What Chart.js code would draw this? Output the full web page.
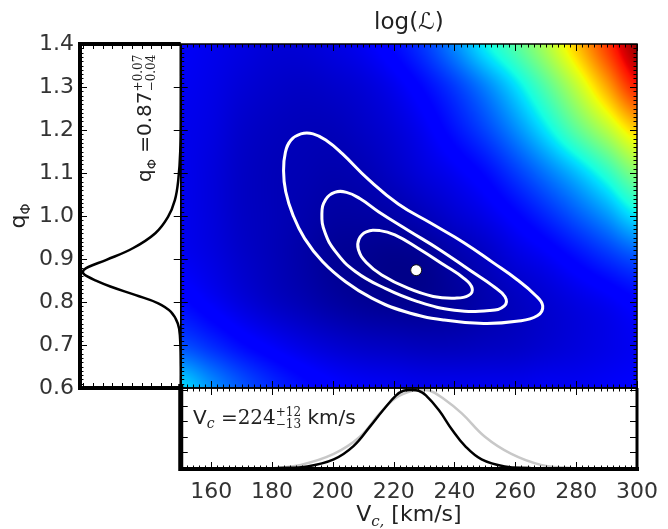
<!DOCTYPE html>
<html><head><meta charset="utf-8">
<script src="https://cdn.jsdelivr.net/npm/chart.js@4.4.1/dist/chart.umd.min.js"></script>
<style>html,body{margin:0;padding:0;background:#fff;}#wrap{position:relative;width:668px;height:529px;}</style>
</head><body><div id="wrap"><canvas id="c" width="668" height="529"></canvas></div>
<script>
// ---------- data ----------
const vcGrid = [150,160,170,180,190,200,210,220,230,240,250,260,270,280,290,300];
const qGrid  = [1.4,1.3,1.2,1.1,1.0,0.9,0.8,0.7,0.6];
// log-likelihood (normalised colour value) per q row, along vcGrid
const logL_q140 = [0.105,0.095,0.085,0.075,0.075,0.085,0.10,0.13,0.18,0.26,0.36,0.45,0.56,0.70,0.85,0.98];
const logL_q130 = [0.10,0.09,0.075,0.065,0.06,0.065,0.075,0.095,0.13,0.18,0.25,0.34,0.45,0.58,0.73,0.88];
const logL_q120 = [0.095,0.085,0.065,0.055,0.05,0.05,0.06,0.075,0.10,0.14,0.19,0.26,0.35,0.46,0.57,0.69];
const logL_q110 = [0.095,0.08,0.06,0.05,0.045,0.04,0.045,0.06,0.08,0.10,0.13,0.18,0.24,0.31,0.40,0.51];
const logL_q100 = [0.095,0.08,0.06,0.05,0.04,0.03,0.03,0.035,0.05,0.07,0.09,0.12,0.16,0.21,0.27,0.35];
const logL_q090 = [0.10,0.085,0.065,0.05,0.035,0.02,0.015,0.01,0.015,0.035,0.055,0.08,0.10,0.13,0.165,0.20];
const logL_q080 = [0.13,0.105,0.08,0.06,0.045,0.03,0.02,0.015,0.015,0.025,0.04,0.055,0.07,0.085,0.10,0.12];
const logL_q070 = [0.20,0.165,0.13,0.105,0.085,0.07,0.06,0.055,0.05,0.05,0.055,0.06,0.07,0.08,0.09,0.10];
const logL_q060 = [0.34,0.27,0.21,0.165,0.135,0.115,0.105,0.10,0.095,0.095,0.095,0.095,0.10,0.10,0.105,0.11];
const logLRows = [logL_q140,logL_q130,logL_q120,logL_q110,logL_q100,logL_q090,logL_q080,logL_q070,logL_q060];

// confidence contours [Vc, q]
const contourInner = [[224.7,0.832],[216.1,0.863],[211.0,0.892],[208.4,0.922],[208.6,0.946],[211.0,0.963],[215.5,0.966],[220.4,0.956],[228.0,0.925],[236.6,0.886],[243.1,0.855],[245.8,0.832],[244.6,0.815],[240.0,0.809],[233.0,0.813]];
const contourMid = [[227.9,0.801],[217.1,0.832],[207.4,0.871],[200.9,0.917],[197.4,0.962],[196.4,1.005],[197.6,1.038],[200.6,1.055],[204.5,1.055],[209.0,1.040],[215.0,1.010],[224.7,0.967],[235.5,0.920],[245.2,0.873],[252.5,0.838],[256.6,0.812],[256.4,0.791],[251.5,0.780],[240.0,0.781]];
const contourOuter = [[223.6,0.778],[212.8,0.809],[204.2,0.847],[196.6,0.894],[190.7,0.948],[186.9,1.002],[184.5,1.057],[183.8,1.105],[184.4,1.148],[186.2,1.176],[189.5,1.191],[193.5,1.191],[198.0,1.175],[203.1,1.145],[211.7,1.085],[221.5,1.028],[232.3,0.983],[243.1,0.938],[252.8,0.891],[260.4,0.853],[266.4,0.817],[269.0,0.791],[267.2,0.768],[260.4,0.755],[249.6,0.750],[236.6,0.758]];
const bestFit = [[227.4,0.874]];

// marginal of q (left panel)
const qMargQ = [0.60,0.65,0.72,0.75,0.777,0.797,0.816,0.836,0.851,0.860,0.866,0.870,0.875,0.882,0.898,0.925,0.960,0.998,1.037,1.084,1.15,1.25,1.40];
const qMargP = [0,0,0.008,0.03,0.10,0.23,0.46,0.72,0.88,0.96,0.995,1.0,0.99,0.94,0.76,0.49,0.26,0.13,0.06,0.025,0.005,0,0];

// marginal of Vc (bottom panel)
const vcMargV = [181.9,191.6,200.3,206.8,212.2,216.5,220.8,223.2,225.7,228.2,230.6,234.9,239.2,243.5,248.9,256.5,265.0];
const vcMargP = [0,0.02,0.11,0.28,0.53,0.74,0.93,0.99,1.0,0.99,0.93,0.74,0.49,0.28,0.11,0.02,0];
const vcPriorV = [180.9,189.5,200.3,208.9,215.4,220.8,226.0,228.7,232.0,236.0,242.4,250.0,258.7,268.4,278.1];
const vcPriorP = [0,0.04,0.18,0.40,0.70,0.90,0.99,1.0,0.99,0.90,0.70,0.40,0.18,0.04,0];

const vcTicks = [160,180,200,220,240,260,280,300];
const qTicks  = [0.6,0.7,0.8,0.9,1.0,1.1,1.2,1.3,1.4];

// ---------- helpers ----------
function jet(v){
  v = Math.max(0, Math.min(1, v));
  const interp = (pts) => { for (let i=1;i<pts.length;i++){ if (v<=pts[i][0]){ const a=pts[i-1],b=pts[i]; return a[1]+(b[1]-a[1])*(v-a[0])/(b[0]-a[0]); } } return pts[pts.length-1][1]; };
  const r = interp([[0,0],[0.35,0],[0.66,1],[0.89,1],[1,0.5]]);
  const g = interp([[0,0],[0.125,0],[0.375,1],[0.64,1],[0.91,0],[1,0]]);
  const b = interp([[0,0.5],[0.11,1],[0.34,1],[0.65,0],[1,0]]);
  return [r*255,g*255,b*255];
}
function cr(p0,p1,p2,p3,t){ return p1 + 0.5*t*(p2-p0 + t*(2*p0-5*p1+4*p2-p3 + t*(3*(p1-p2)+p3-p0))); }
function sampleGrid(fx, fy){
  const nx = vcGrid.length, ny = qGrid.length;
  const cl = (i,n)=>Math.max(0,Math.min(n-1,i));
  let ix = Math.floor(fx), iy = Math.floor(fy);
  ix = Math.max(0, Math.min(nx-2, ix)); iy = Math.max(0, Math.min(ny-2, iy));
  const tx = fx-ix, ty = fy-iy;
  const col = [];
  for (let k=-1;k<=2;k++){
    const row = logLRows[cl(iy+k,ny)];
    col.push(cr(row[cl(ix-1,nx)],row[ix],row[cl(ix+1,nx)],row[cl(ix+2,nx)],tx));
  }
  return cr(col[0],col[1],col[2],col[3],ty);
}
const toXY = arr => arr.map(([x,y])=>({x,y}));
// closed loop: one extra point on each side so every drawn joint is smooth; the two helper segments are hidden
const closeLoop = arr => { const p = toXY(arr); return [p[p.length-1]].concat(p, [p[0], p[1]]); };
const pairs = (xs, ys) => xs.map((x,i)=>({x, y: ys[i]}));

// ---------- plugins ----------
const heatmapPlugin = {
  id:'heatmap',
  beforeDatasetsDraw(chart){
    const xs = chart.scales.x, ys = chart.scales.y, ctx = chart.ctx;
    const x0 = Math.round(xs.getPixelForValue(vcGrid[0])), x1 = Math.round(xs.getPixelForValue(vcGrid[vcGrid.length-1]));
    const y0 = Math.round(ys.getPixelForValue(qGrid[0])), y1 = Math.round(ys.getPixelForValue(qGrid[qGrid.length-1]));
    const w = x1-x0, h = y1-y0;
    const off = document.createElement('canvas'); off.width = w; off.height = h;
    const octx = off.getContext('2d'); const img = octx.createImageData(w,h);
    const dv = vcGrid[1]-vcGrid[0], dq = qGrid[0]-qGrid[1];
    for (let j=0;j<h;j++){
      const q = ys.getValueForPixel(y0+j+0.5); const fy = (qGrid[0]-q)/dq;
      for (let i=0;i<w;i++){
        const v = xs.getValueForPixel(x0+i+0.5); const fx = (v-vcGrid[0])/dv;
        const c = jet(sampleGrid(fx,fy)); const k = (j*w+i)*4;
        img.data[k]=c[0]; img.data[k+1]=c[1]; img.data[k+2]=c[2]; img.data[k+3]=255;
      }
    }
    octx.putImageData(img,0,0);
    ctx.drawImage(off, x0, y0);
  }
};

function seg(ctx,x1,y1,x2,y2){ ctx.beginPath(); ctx.moveTo(x1,y1); ctx.lineTo(x2,y2); ctx.stroke(); }

const framePlugin = {
  id:'frame',
  afterDatasetsDraw(chart){
    const ctx = chart.ctx, xs = chart.scales.x, ys = chart.scales.y, x2 = chart.scales.x2, y2 = chart.scales.y2;
    const L = chart.chartArea.left, R = xs.getPixelForValue(300), X0 = xs.getPixelForValue(150);
    const T = ys.getPixelForValue(1.4), B = ys.getPixelForValue(0.6), BB = chart.chartArea.bottom;
    ctx.save(); ctx.strokeStyle = '#000'; ctx.lineCap = 'butt';
    for (let v=150; v<=300.001; v+=2){
      const major = Math.abs((v-160)%20) < 1e-6; const len = major ? 7 : 3.5; const px = Math.round(xs.getPixelForValue(v))+0.5;
      ctx.lineWidth = 1;
      seg(ctx,px,T,px,T+len); seg(ctx,px,B,px,B-len); seg(ctx,px,B,px,B+len); seg(ctx,px,BB,px,BB-len);
    }
    for (let i=0;i<=80;i++){
      const q = 0.6 + i*0.01; const major = i%10===0; const len = major ? 7 : 3.5; const py = Math.round(ys.getPixelForValue(q))+0.5;
      ctx.lineWidth = 1;
      seg(ctx,L,py,L+len,py); seg(ctx,X0,py,X0+len,py); seg(ctx,R,py,R-len,py);
      if (major) seg(ctx,X0,py,X0-len,py);
    }
    for (let d=0; d<=1.0001; d+=0.1){
      const px = Math.round(x2.getPixelForValue(d))+0.5; ctx.lineWidth = 1;
      seg(ctx,px,T,px,T+5); seg(ctx,px,B,px,B-5);
    }
    for (let d=0.2; d<=1.0001; d+=0.2){
      const py = Math.round(y2.getPixelForValue(d))+0.5; ctx.lineWidth = 1;
      seg(ctx,X0,py,X0+7,py); seg(ctx,R,py,R-7,py);
    }
    ctx.lineWidth = 1.5; ctx.strokeRect(X0, T, R-X0, B-T);
    ctx.lineWidth = 4;
    seg(ctx,L-2,T,X0,T); seg(ctx,L,T,L,B); seg(ctx,L-2,B,X0+2,B);
    ctx.lineWidth = 1.5; seg(ctx,X0,T,X0,B);
    ctx.lineWidth = 5; seg(ctx,X0,B-4,X0,BB+2);
    ctx.lineWidth = 4; seg(ctx,X0,BB,R+2,BB);
    ctx.lineWidth = 3; seg(ctx,R,B,R,BB);
    ctx.lineWidth = 1.5; seg(ctx,X0,B,R,B);
    ctx.restore();
  }
};

function rich(ctx, x, y, parts, draw){
  let cx = x;
  for (const p of parts){
    ctx.font = p.f;
    if (p.sup !== undefined){
      const w = Math.max(ctx.measureText(p.sup).width, ctx.measureText(p.sub).width);
      if (draw){ ctx.fillText(p.sup, cx, y+p.up); ctx.fillText(p.sub, cx, y+p.dn); }
      cx += w;
    } else {
      if (draw) ctx.fillText(p.t, cx, y+(p.dy||0));
      cx += ctx.measureText(p.t).width;
    }
  }
  return cx - x;
}

const textPlugin = {
  id:'texts',
  afterDraw(chart){
    const ctx = chart.ctx, xs = chart.scales.x, ys = chart.scales.y;
    ctx.save(); ctx.fillStyle = '#222'; ctx.textBaseline = 'alphabetic'; ctx.textAlign = 'left';
    const cx = (xs.getPixelForValue(150)+xs.getPixelForValue(300))/2;
    const cy = (ys.getPixelForValue(0.6)+ys.getPixelForValue(1.4))/2;
    const title = [{t:'log(', f:'23px "DejaVu Sans"'},{t:'\u2112', f:'23px "DejaVu Sans"'},{t:')', f:'23px "DejaVu Sans"'}];
    let w = rich(ctx,0,0,title,false); rich(ctx, cx-w/2, 29, title, true);
    const xt = [{t:'V', f:'22px "DejaVu Sans"'},{t:'c,', f:'italic 15px "DejaVu Serif"', dy:5},{t:' [km/s]', f:'22px "DejaVu Sans"'}];
    w = rich(ctx,0,0,xt,false); rich(ctx, cx-w/2, 521, xt, true);
    const yt = [{t:'q', f:'22px "DejaVu Sans"'},{t:'\u03A6', f:'14px "DejaVu Sans"', dy:5}];
    w = rich(ctx,0,0,yt,false);
    ctx.save(); ctx.translate(25, cy); ctx.rotate(-Math.PI/2); rich(ctx,-w/2,0,yt,true); ctx.restore();
    const bt = [{t:'V', f:'20px "DejaVu Sans"'},{t:'c', f:'italic 14px "DejaVu Serif"', dy:4},{t:' =', f:'20px "DejaVu Sans"'},
                {t:'224', f:'20px "DejaVu Serif"'},{sup:'+12', sub:'\u221213', f:'12px "DejaVu Serif"', up:-8, dn:4},{t:' km/s', f:'20px "DejaVu Sans"'}];
    rich(ctx, 193, 424, bt, true);
    const lt = [{t:'q', f:'20px "DejaVu Sans"'},{t:'\u03A6', f:'13px "DejaVu Sans"', dy:5},{t:' =0.87', f:'20px "DejaVu Sans"'},
                {sup:'+0.07', sub:'\u22120.04', f:'12px "DejaVu Serif"', up:-9, dn:4}];
    ctx.save(); ctx.translate(151, 182); ctx.rotate(-Math.PI/2); rich(ctx,0,0,lt,true); ctx.restore();
    ctx.restore();
  }
};

// ---------- chart ----------
const lineDs = (data, color, width, xa, ya, tension) => ({data, showLine:true, borderColor:color, borderWidth:width, pointRadius:0, tension:tension, fill:false, xAxisID:xa, yAxisID:ya});
const loopDs = (arr) => {
  const data = closeLoop(arr); const last = data.length - 2;
  const ds = lineDs(data, '#fff', 3, 'x', 'y', 0.45);
  ds.segment = { borderColor: c => (c.p0DataIndex === 0 || c.p0DataIndex === last) ? 'rgba(0,0,0,0)' : undefined };
  return ds;
};
new Chart(document.getElementById('c'), {
  type:'scatter',
  data:{ datasets:[
    {data: toXY(bestFit), pointRadius:5.5, pointBackgroundColor:'#fff', pointBorderColor:'#111', pointBorderWidth:1, showLine:false, xAxisID:'x', yAxisID:'y'},
    loopDs(contourInner),
    loopDs(contourMid),
    loopDs(contourOuter),
    lineDs(pairs(qMargP, qMargQ), '#000', 2.5, 'x2', 'y', 0.4),
    lineDs(pairs(vcMargV, vcMargP), '#000', 2.5, 'x', 'y2', 0.4),
    lineDs(pairs(vcPriorV, vcPriorP), '#c8c8c8', 2.5, 'x', 'y2', 0.4)
  ]},
  options:{
    responsive:false, animation:false, devicePixelRatio:1,
    layout:{padding:{left:0,right:24,top:44,bottom:0}},
    plugins:{legend:{display:false}, tooltip:{enabled:false}, title:{display:false}},
    scales:{
      x:{type:'linear', axis:'x', position:'bottom', min:116.88, max:300,
         grid:{display:false, drawTicks:false}, border:{display:false},
         afterBuildTicks: s => { s.ticks = vcTicks.map(v=>({value:v})); },
         afterFit: s => { s.height = 60; },
         ticks:{font:{family:'DejaVu Sans', size:22}, color:'#333', padding:10, maxRotation:0, autoSkip:false, callback:v=>String(Math.round(v))}},
      y:{type:'linear', axis:'y', position:'left', min:0.41163, max:1.4,
         grid:{display:false, drawTicks:false}, border:{display:false},
         afterBuildTicks: s => { s.ticks = qTicks.map(v=>({value:v})); },
         afterFit: s => { s.width = 80; },
         ticks:{font:{family:'DejaVu Sans', size:22}, color:'#333', padding:6, autoSkip:false, callback:v=>Number(v).toFixed(1)}},
      x2:{type:'linear', axis:'x', display:false, reverse:true, min:-4.667, max:1.0303},
      y2:{type:'linear', axis:'y', display:false, min:-0.0128, max:5.436}
    }
  },
  plugins:[heatmapPlugin, framePlugin, textPlugin]
});
</script></body></html>
